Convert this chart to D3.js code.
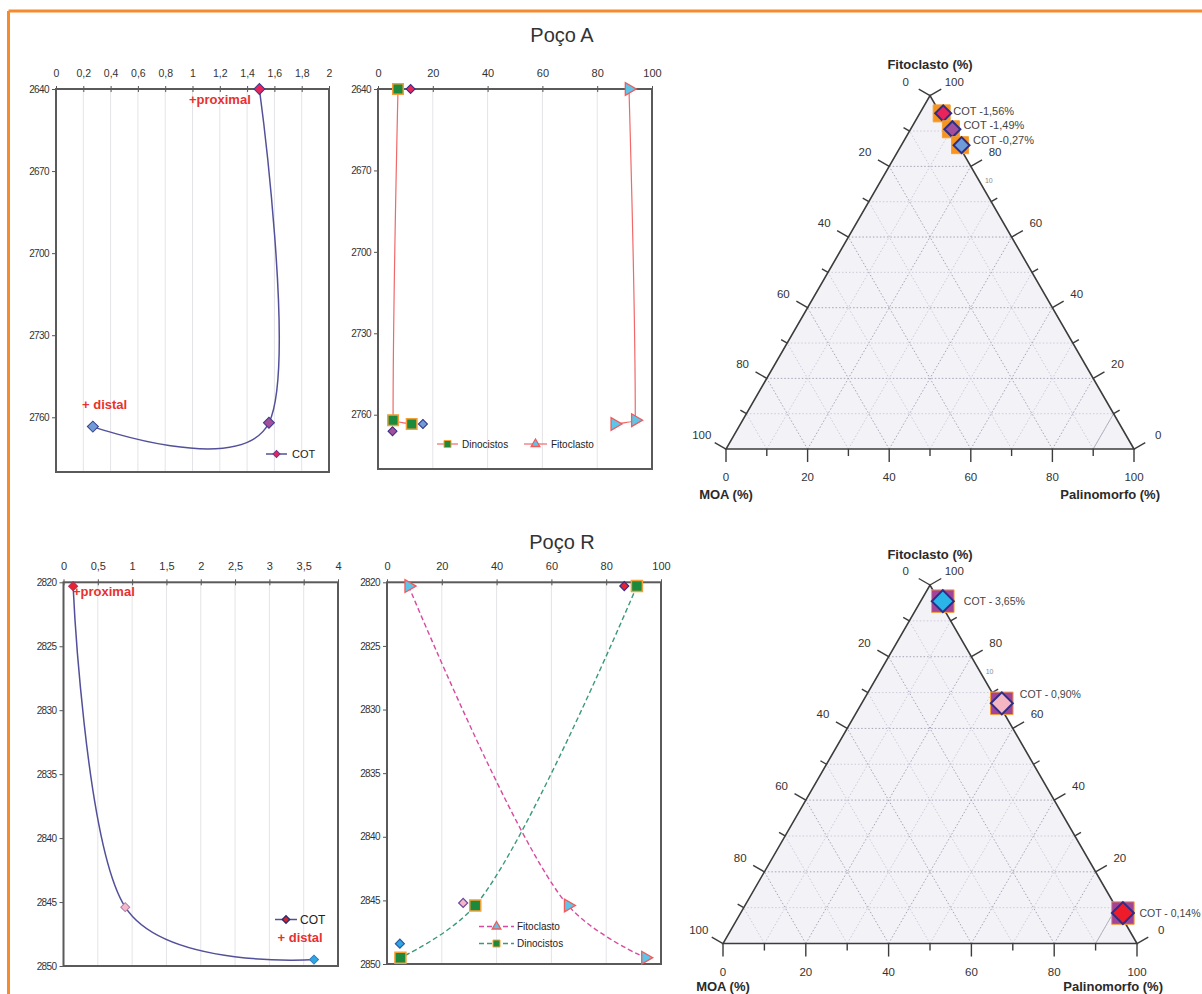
<!DOCTYPE html>
<html>
<head>
<meta charset="utf-8">
<script src="https://cdn.jsdelivr.net/npm/d3@7"></script>
<style>
  body { margin: 0; background: #fff; }
  svg { display: block; font-family: "Liberation Sans", Arial, sans-serif; }
</style>
</head>
<body>
<svg id="chart" width="1202" height="994"></svg>
<script>
// ---------------- Poço A : perfis ----------------
const depthA = [2640, 2762, 2763.4];
const cotA = [1.49, 1.56, 0.27];
const dinocistosA = [7.3, 5.5, 12.3];
const fitoclastoA = [91.6, 93.9, 86.4];
const sampleDepthA = [2640, 2763.4, 2766.1];
const samplePctA = [11.9, 16.4, 5.3];

// ---------------- Poço R : perfis ----------------
const depthR = [2820.3, 2845.4, 2849.5];
const cotR = [0.14, 0.90, 3.65];
const fitoclastoR = [7.9, 66.1, 94.3];
const dinocistosR = [91.2, 32.2, 4.9];
const sampleDepthR = [2820.3, 2845.2, 2848.4];
const samplePctR = [86.6, 27.8, 4.7];

// ---------------- Diagramas ternários ----------------
const ternFitoA = [95, 90.5, 86];
const ternPalinoA = [5, 9.5, 14];
const ternMoaA = [0, 0, 0];
const ternCotA = [1.56, 1.49, 0.27];

const ternFitoR = [95.5, 67, 8.5];
const ternPalinoR = [4.5, 33, 91.5];
const ternMoaR = [0, 0, 0];
const ternCotR = [3.65, 0.90, 0.14];

// ---------------- Eixos ----------------
const cotTicksA = d3.range(0, 2.0001, 0.2).map(v => +v.toFixed(1));
const cotTicksR = d3.range(0, 4.0001, 0.5);
const pctTicks = [0, 20, 40, 60, 80, 100];
const depthTicksA = [2640, 2670, 2700, 2730, 2760];
const depthTicksR = [2820, 2825, 2830, 2835, 2840, 2845, 2850];
const ternTicks = d3.range(0, 101, 10);
const ternLabels = [0, 20, 40, 60, 80, 100];

// ================================================================
const svg = d3.select("#chart");
const FONT = "'Liberation Sans', Arial, sans-serif";
const commaNum = d => String(+(+d).toFixed(2)).replace(".", ",");
const cotFmt = d => d3.format(".2f")(d).replace(".", ",");

// page frame
svg.append("line").attr("x1", 8.5).attr("x2", 1202).attr("y1", 11).attr("y2", 11)
  .attr("stroke", "#f58b2c").attr("stroke-width", 3);
svg.append("line").attr("x1", 8.5).attr("x2", 8.5).attr("y1", 11).attr("y2", 994)
  .attr("stroke", "#f58b2c").attr("stroke-width", 3);

// titles
svg.append("text").attr("x", 562).attr("y", 42).attr("text-anchor", "middle")
  .attr("font-size", 20).attr("fill", "#333").text("Poço A");
svg.append("text").attr("x", 562).attr("y", 549).attr("text-anchor", "middle")
  .attr("font-size", 20).attr("fill", "#333").text("Poço R");

// symbol helpers
const diamondPath = size => d3.symbol(d3.symbolSquare, size * size / 2)();
const squarePath = size => d3.symbol(d3.symbolSquare, size * size)();
const trianglePath = size => d3.symbol(d3.symbolTriangle, size * size * 0.45)();

function diamond(g, x, y, size, fill, stroke, sw = 1) {
  g.append("path").attr("d", diamondPath(size))
    .attr("transform", `translate(${x},${y}) rotate(45)`)
    .attr("fill", fill).attr("stroke", stroke).attr("stroke-width", sw);
}
function square(g, x, y, size, fill, stroke, sw = 1.5) {
  g.append("path").attr("d", squarePath(size))
    .attr("transform", `translate(${x},${y})`)
    .attr("fill", fill).attr("stroke", stroke).attr("stroke-width", sw);
}
function triangle(g, x, y, size, fill, stroke, rot) {
  g.append("path").attr("d", trianglePath(size))
    .attr("transform", `translate(${x},${y}) rotate(${rot})`)
    .attr("fill", fill).attr("stroke", stroke).attr("stroke-width", 1.3);
}

// depth profile panel
function depthPanel(cfg) {
  const x = d3.scaleLinear().domain(cfg.xDomain).range([cfg.left, cfg.right]);
  const y = d3.scaleLinear().domain(cfg.yDomain).range([cfg.top, cfg.bottom]);
  const g = svg.append("g");

  g.append("g").selectAll("line")
    .data(cfg.xTicks.filter(t => t > cfg.xDomain[0] && t < cfg.xDomain[1]))
    .join("line")
    .attr("x1", d => x(d)).attr("x2", d => x(d))
    .attr("y1", cfg.top).attr("y2", cfg.bottom)
    .attr("stroke", "#e4e4e8").attr("stroke-width", 1);

  const xa = g.append("g").attr("transform", `translate(0,${cfg.top})`)
    .call(d3.axisTop(x).tickValues(cfg.xTicks).tickFormat(commaNum)
      .tickSizeInner(3).tickSizeOuter(0).tickPadding(9));
  xa.attr("font-family", FONT).attr("font-size", cfg.xFont);
  xa.select(".domain").remove();
  xa.selectAll(".tick line").attr("y1", 3).attr("y2", -3).attr("stroke", "#555");
  xa.selectAll(".tick text").attr("fill", "#333");

  const ya = g.append("g").attr("transform", `translate(${cfg.left},0)`)
    .call(d3.axisLeft(y).tickValues(cfg.yTicks).tickFormat(d3.format("d"))
      .tickSizeInner(4).tickSizeOuter(0).tickPadding(3));
  ya.attr("font-family", FONT).attr("font-size", 10);
  ya.select(".domain").remove();
  ya.selectAll(".tick line").attr("stroke", "#555");
  ya.selectAll(".tick text").attr("fill", "#333").attr("letter-spacing", -0.6);

  g.append("rect").attr("x", cfg.left).attr("y", cfg.top)
    .attr("width", cfg.right - cfg.left).attr("height", cfg.bottom - cfg.top)
    .attr("fill", "none").attr("stroke", "#5a5a5a").attr("stroke-width", 2);
  return { x, y, g };
}

// smoothed series lines
function curve(p, xs, ys, color, width, dash, shape) {
  const line = d3.line().x(d => p.x(d[0])).y(d => p.y(d[1])).curve(shape);
  p.g.append("path").attr("d", line(xs.map((v, i) => [v, ys[i]])))
    .attr("fill", "none").attr("stroke", color).attr("stroke-width", width)
    .attr("stroke-dasharray", dash || null);
}
const cardinal = d3.curveCardinal.tension(0);
const monotone = d3.curveMonotoneY;
const centripetal = d3.curveCatmullRom.alpha(0.5);

function redLabel(x, y, text) {
  svg.append("text").attr("x", x).attr("y", y).attr("font-size", 13)
    .attr("font-weight", "bold").attr("fill", "#e8312f").text(text);
}
function legendText(x, y, text, size) {
  svg.append("text").attr("x", x).attr("y", y).attr("font-size", size)
    .attr("dominant-baseline", "central").attr("fill", "#222").text(text);
}

const NAVY = "#2e2e86";

// ---- Poço A : COT ----
{
  const p = depthPanel({ left: 56, right: 329, top: 89, bottom: 472,
    xDomain: [0, 2], xTicks: cotTicksA, yDomain: [2640, 2780], yTicks: depthTicksA, xFont: 10.5 });
  curve(p, cotA, depthA, "#52509a", 1.5, null, cardinal);
  const fills = ["#e8245a", "#a24f9c", "#6f9bd6"];
  cotA.forEach((v, i) => diamond(p.g, p.x(v), p.y(depthA[i]), 11, fills[i], "#3a3a8a", 1));
  redLabel(189, 104, "+proximal");
  redLabel(82, 409, "+ distal");
  p.g.append("line").attr("x1", 266).attr("x2", 287).attr("y1", 454).attr("y2", 454)
    .attr("stroke", "#52509a").attr("stroke-width", 1.5);
  diamond(p.g, 276.5, 454, 7, "#e8245a", "#6a3a8a", 1);
  legendText(292, 454, "COT", 11);
}

// ---- Poço A : Dinocistos / Fitoclasto ----
{
  const p = depthPanel({ left: 378, right: 652, top: 89, bottom: 469,
    xDomain: [0, 100], xTicks: pctTicks, yDomain: [2640, 2780], yTicks: depthTicksA, xFont: 11 });
  curve(p, dinocistosA, depthA, "#f06868", 1.2, null, monotone);
  curve(p, fitoclastoA, depthA, "#f06868", 1.2, null, monotone);
  const fills = ["#e8245a", "#6f9bd6", "#a24f9c"];
  samplePctA.forEach((v, i) => diamond(p.g, p.x(v), p.y(sampleDepthA[i]), 9, fills[i], NAVY, 1));
  dinocistosA.forEach((v, i) => square(p.g, p.x(v), p.y(depthA[i]), 10.5, "#1c8a3c", "#f4a03a"));
  fitoclastoA.forEach((v, i) => triangle(p.g, p.x(v), p.y(depthA[i]), 12.5, "#5cc6ea", "#f05a5a", 90));

  p.g.append("line").attr("x1", 437).attr("x2", 458).attr("y1", 444).attr("y2", 444)
    .attr("stroke", "#f06868").attr("stroke-width", 1.2);
  square(p.g, 447.5, 444, 7, "#1c8a3c", "#f4a03a", 1);
  legendText(462, 444, "Dinocistos", 10);
  p.g.append("line").attr("x1", 524).attr("x2", 547).attr("y1", 444).attr("y2", 444)
    .attr("stroke", "#f06868").attr("stroke-width", 1.2);
  triangle(p.g, 535.5, 444, 8.5, "#5cc6ea", "#f05a5a", 0);
  legendText(551, 444, "Fitoclasto", 10);
}

// ---- Poço R : COT ----
{
  const p = depthPanel({ left: 63.5, right: 338, top: 582.3, bottom: 966,
    xDomain: [0, 4], xTicks: cotTicksR, yDomain: [2820, 2850], yTicks: depthTicksR, xFont: 11 });
  curve(p, cotR, depthR, "#52509a", 1.5, null, cardinal);
  const fills = ["#e8242e", "#f4b8c6", "#2aa8e2"];
  const strokes = ["#b02a5a", "#b07aa8", "#3a78c0"];
  cotR.forEach((v, i) => diamond(p.g, p.x(v), p.y(depthR[i]), 9, fills[i], strokes[i], 1));
  redLabel(73, 596, "+proximal");
  redLabel(277.5, 941.5, "+ distal");
  p.g.append("line").attr("x1", 275).attr("x2", 297).attr("y1", 919.5).attr("y2", 919.5)
    .attr("stroke", "#52509a").attr("stroke-width", 1.5);
  diamond(p.g, 286, 919.5, 7.5, "#d8242e", "#2a2a6a", 1.3);
  legendText(300, 919.5, "COT", 12);
}

// ---- Poço R : Fitoclasto / Dinocistos ----
{
  const p = depthPanel({ left: 387, right: 661, top: 582.3, bottom: 964,
    xDomain: [0, 100], xTicks: pctTicks, yDomain: [2820, 2850], yTicks: depthTicksR, xFont: 11 });
  curve(p, fitoclastoR, depthR, "#d84aa0", 1.4, "5,3", centripetal);
  curve(p, dinocistosR, depthR, "#3a9a78", 1.4, "5,3", centripetal);
  const fills = ["#e8242e", "#f4b6c8", "#2aa8e2"];
  const strokes = ["#3a2a8a", "#6a4a9a", "#2a5aa8"];
  samplePctR.forEach((v, i) => diamond(p.g, p.x(v), p.y(sampleDepthR[i]), 9, fills[i], strokes[i], 1.2));
  dinocistosR.forEach((v, i) => square(p.g, p.x(v), p.y(depthR[i]), 11, "#1c8a3c", "#f4a03a"));
  fitoclastoR.forEach((v, i) => triangle(p.g, p.x(v), p.y(depthR[i]), 12.5, "#5cc6ea", "#f05a5a", 90));

  p.g.append("line").attr("x1", 479).attr("x2", 514).attr("y1", 926.5).attr("y2", 926.5)
    .attr("stroke", "#d84aa0").attr("stroke-width", 1.3).attr("stroke-dasharray", "5,3");
  triangle(p.g, 496.5, 926.5, 8.5, "#5cc6ea", "#f05a5a", 0);
  legendText(517, 926.5, "Fitoclasto", 10);
  p.g.append("line").attr("x1", 479).attr("x2", 514).attr("y1", 943.5).attr("y2", 943.5)
    .attr("stroke", "#3a9a78").attr("stroke-width", 1.3).attr("stroke-dasharray", "5,3");
  square(p.g, 496.5, 943.5, 7, "#1c8a3c", "#f4a03a", 1);
  legendText(517, 943.5, "Dinocistos", 10);
}

// ---------------- ternary diagram ----------------
function ternary(cfg) {
  const h = cfg.side * Math.sqrt(3) / 2;
  const blx = cfg.cx - cfg.side / 2, brx = cfg.cx + cfg.side / 2, by = cfg.apexY + h;
  const px = d3.scaleLinear().domain([0, 100]).range([blx, brx]);
  const py = d3.scaleLinear().domain([0, 100]).range([by, cfg.apexY]);
  const pos = (f, p) => [px(p + f / 2), py(f)];
  const g = svg.append("g").attr("font-family", FONT);

  g.append("path")
    .attr("d", d3.line()([pos(0, 0), pos(100, 0), pos(0, 100)]) + "Z")
    .attr("fill", "#f2f2f7");

  // dotted grid
  ternTicks.filter(k => k > 0 && k < 100).forEach(k => {
    const major = k % 20 === 0;
    const segs = [
      [pos(k, 0), pos(k, 100 - k)],
      [pos(0, k), pos(100 - k, k)],
      [pos(0, 100 - k), pos(100 - k, 0)]
    ];
    segs.forEach(s => g.append("line")
      .attr("x1", s[0][0]).attr("y1", s[0][1]).attr("x2", s[1][0]).attr("y2", s[1][1])
      .attr("stroke", major ? "#a8a4b8" : "#cfcbdb").attr("stroke-width", 1)
      .attr("stroke-dasharray", "1.5,2"));
  });
  const s90a = pos(0, 90), s90b = pos(10, 90);
  g.append("line").attr("x1", s90a[0]).attr("y1", s90a[1]).attr("x2", s90b[0]).attr("y2", s90b[1])
    .attr("stroke", "#b4b4c0").attr("stroke-width", 1);

  g.append("path")
    .attr("d", d3.line()([pos(0, 0), pos(100, 0), pos(0, 100)]) + "Z")
    .attr("fill", "none").attr("stroke", "#3c3c3c").attr("stroke-width", 1.6);

  const c30 = Math.cos(Math.PI / 6), s30 = 0.5;
  const tick = (pt, nx, ny, len) => g.append("line")
    .attr("x1", pt[0]).attr("y1", pt[1]).attr("x2", pt[0] + nx * len).attr("y2", pt[1] + ny * len)
    .attr("stroke", "#3c3c3c").attr("stroke-width", 1.4);
  const lab = (pt, nx, ny, d, text) => g.append("text")
    .attr("x", pt[0] + nx * d).attr("y", pt[1] + ny * d)
    .attr("text-anchor", "middle").attr("dominant-baseline", "central")
    .attr("font-size", 11.5).attr("fill", "#333").text(text);

  ternTicks.forEach(k => {
    const len = k % 20 === 0 ? 13 : 7;
    tick(pos(0, k), 0, 1, len);                 // Palinomorfo (base)
    tick(pos(100 - k, 0), -c30, -s30, len);     // MOA (esquerda)
    tick(pos(k, 100 - k), c30, -s30, len);      // Fitoclasto (direita)
  });
  ternLabels.forEach(k => {
    lab(pos(0, k), 0, 1, 28, k);
    lab(pos(100 - k, 0), -c30, -s30, 28, k);
    lab(pos(k, 100 - k), c30, -s30, 28, k);
  });
  const small = pos(76, 24);
  g.append("text").attr("x", small[0] + 6).attr("y", small[1]).attr("dominant-baseline", "central")
    .attr("font-size", 7).attr("fill", "#888").text("10");

  const title = (x, y, anchor, text) => g.append("text").attr("x", x).attr("y", y)
    .attr("text-anchor", anchor).attr("dominant-baseline", "central")
    .attr("font-size", 13).attr("font-weight", "bold").attr("fill", "#2a2a2a").text(text);
  title(cfg.cx, cfg.apexY - 31, "middle", "Fitoclasto  (%)");
  title(blx, by + cfg.titleDy, "middle", "MOA (%)");
  title(brx + 26, by + cfg.titleDy, "end", "Palinomorfo (%)");

  // samples (markers sit slightly right of their plotted position)
  cfg.fito.forEach((f, i) => {
    const tot = f + cfg.palino[i] + cfg.moa[i];
    const [x0, y] = pos(f / tot * 100, cfg.palino[i] / tot * 100);
    const x = x0 + cfg.markDx;
    square(g, x + cfg.sqShift, y, cfg.sqSize, cfg.sqFill, "#f4a03a", 1);
    diamond(g, x, y, cfg.dSize, cfg.dFills[i], NAVY, 2);
    g.append("text").attr("x", x + cfg.labelDx[i]).attr("y", y + cfg.labelDy[i])
      .attr("dominant-baseline", "central").attr("font-size", cfg.labelFont).attr("fill", "#444")
      .text(cfg.prefix + cotFmt(cfg.cot[i]) + "%");
  });
}

ternary({ cx: 930, apexY: 95.7, side: 408, titleDy: 45,
  fito: ternFitoA, palino: ternPalinoA, moa: ternMoaA, cot: ternCotA,
  prefix: "COT -", sqFill: "#f7941e", sqSize: 17, sqShift: -1.5, dSize: 16, markDx: 3,
  dFills: ["#e8245a", "#a24f9c", "#6f9bd6"], labelFont: 11,
  labelDx: [10, 11, 11.5], labelDy: [-2, -4, -5] });

ternary({ cx: 930, apexY: 585, side: 414, titleDy: 42.5,
  fito: ternFitoR, palino: ternPalinoR, moa: ternMoaR, cot: ternCotR,
  prefix: "COT - ", sqFill: "#a3449b", sqSize: 22.5, sqShift: 0, dSize: 22, markDx: 3.5,
  dFills: ["#2ab4e8", "#f4b6c2", "#ee1c2a"], labelFont: 10.5,
  labelDx: [21, 18, 16.5], labelDy: [0, -9, 0] });
</script>
</body>
</html>
